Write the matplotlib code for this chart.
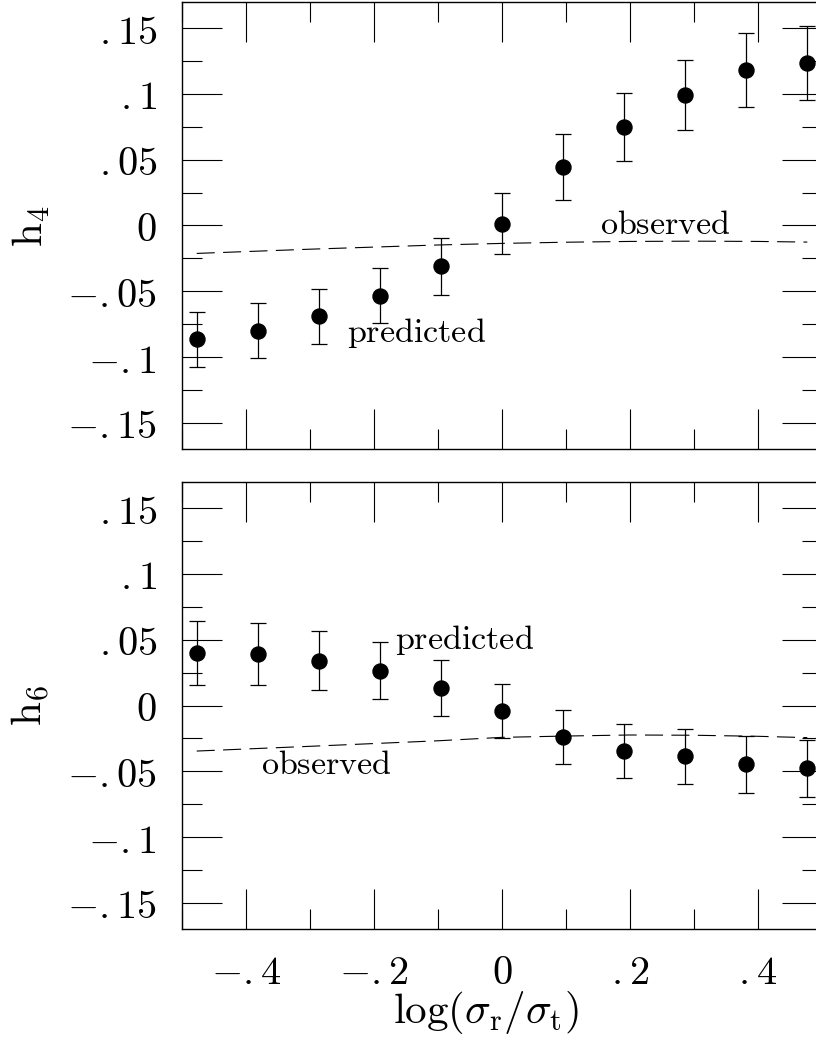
import numpy as np
import matplotlib
matplotlib.use("Agg")
import matplotlib.pyplot as plt
from matplotlib.ticker import FixedLocator, MultipleLocator

plt.rcParams['mathtext.fontset'] = 'cm'
plt.rcParams['lines.scale_dashes'] = False

#### data ####
log_ratio = [-0.477, -0.382, -0.286, -0.191, -0.095, 0.0, 0.095, 0.191, 0.286, 0.382, 0.477]

h4_pred = [-0.0864, -0.0798, -0.0689, -0.0533, -0.0311, 0.0015, 0.0444, 0.0747, 0.0992, 0.1182, 0.1232]
h4_err = [0.0208, 0.0206, 0.0209, 0.0211, 0.0217, 0.0230, 0.0248, 0.0259, 0.0264, 0.0279, 0.0280]

h6_pred = [0.0402, 0.0389, 0.0341, 0.0265, 0.0136, -0.0041, -0.0240, -0.0344, -0.0384, -0.0447, -0.0477]
h6_err = [0.0243, 0.0236, 0.0224, 0.0219, 0.0212, 0.0203, 0.0204, 0.0205, 0.0209, 0.0215, 0.0216]

# observed trends (dashed)
obs_x = [-0.477, -0.3, -0.1, 0.0, 0.1, 0.2, 0.3, 0.4, 0.477]
h4_obs = [-0.0212, -0.0180, -0.0148, -0.0136, -0.0127, -0.0121, -0.0119, -0.0121, -0.0126]
h6_obs = [-0.0346, -0.0310, -0.0268, -0.0242, -0.0232, -0.0224, -0.0226, -0.0234, -0.0244]

# tick labels
y_ticks = [-0.15, -0.1, -0.05, 0.0, 0.05, 0.1, 0.15]
y_labels = [r'${-}{.}15$', r'${-}{.}1$', r'${-}{.}05$', r'$0$', r'${.}05$', r'${.}1$', r'${.}15$']
x_ticks = [-0.4, -0.2, 0.0, 0.2, 0.4]
x_labels = [r'${-}{.}4$', r'${-}{.}2$', r'$0$', r'${.}2$', r'${.}4$']

#### figure ####
W, H = 816, 1038
fig = plt.figure(figsize=(W / 100, H / 100), dpi=100)
ax1 = fig.add_axes([182 / W, 588.7 / H, 640 / W, 447.6 / H])
ax2 = fig.add_axes([182 / W, 108.7 / H, 640 / W, 447.6 / H])


def style_axis(ax):
    ax.set_xlim(-0.5, 0.5)
    ax.set_ylim(-0.17, 0.17)
    ax.xaxis.set_major_locator(FixedLocator(x_ticks))
    ax.xaxis.set_minor_locator(MultipleLocator(0.1))
    ax.yaxis.set_major_locator(FixedLocator(y_ticks))
    ax.yaxis.set_minor_locator(MultipleLocator(0.025))
    ax.set_yticklabels(y_labels)
    ax.tick_params(which='both', direction='in', top=True, right=True, width=0.8, colors='k')
    ax.tick_params(which='major', length=29)
    ax.tick_params(which='minor', length=14.5)
    ax.tick_params(axis='y', labelsize=29, pad=18)
    ax.tick_params(axis='x', labelsize=29, pad=17)
    for s in ax.spines.values():
        s.set_linewidth(1.0)


for ax, pred, err, obs in [(ax1, h4_pred, h4_err, h4_obs), (ax2, h6_pred, h6_err, h6_obs)]:
    style_axis(ax)
    ax.errorbar(log_ratio, pred, yerr=err, fmt='o', color='k', ms=10.8,
                capsize=5.8, elinewidth=0.9, capthick=0.9)
    ax.plot(obs_x, obs, color='k', lw=0.8, dashes=(13, 6))

ax1.tick_params(axis='x', labelbottom=False)
ax2.set_xticklabels(x_labels)

# annotations
fs_txt = 24.5
ax1.text(-0.2427, -0.0882, r'$\mathrm{predicted}$', fontsize=fs_txt, va='baseline', ha='left')
ax1.text(0.153, -0.0061, r'$\mathrm{observed}$', fontsize=fs_txt, va='baseline', ha='left')
ax2.text(-0.167, 0.0432, r'$\mathrm{predicted}$', fontsize=fs_txt, va='baseline', ha='left')
ax2.text(-0.3766, -0.052, r'$\mathrm{observed}$', fontsize=fs_txt, va='baseline', ha='left')

ax1.set_ylabel(r'$\mathrm{h}_4$', fontsize=31)
ax2.set_ylabel(r'$\mathrm{h}_6$', fontsize=31)
ax1.yaxis.set_label_coords(-0.203, 0.5)
ax2.yaxis.set_label_coords(-0.203, 0.5)
ax2.set_xlabel(r'$\log(\sigma_\mathrm{r}/\sigma_\mathrm{t})$', fontsize=31)
ax2.xaxis.set_label_coords(0.475, -0.134)

fig.savefig('out.png', dpi=100)
